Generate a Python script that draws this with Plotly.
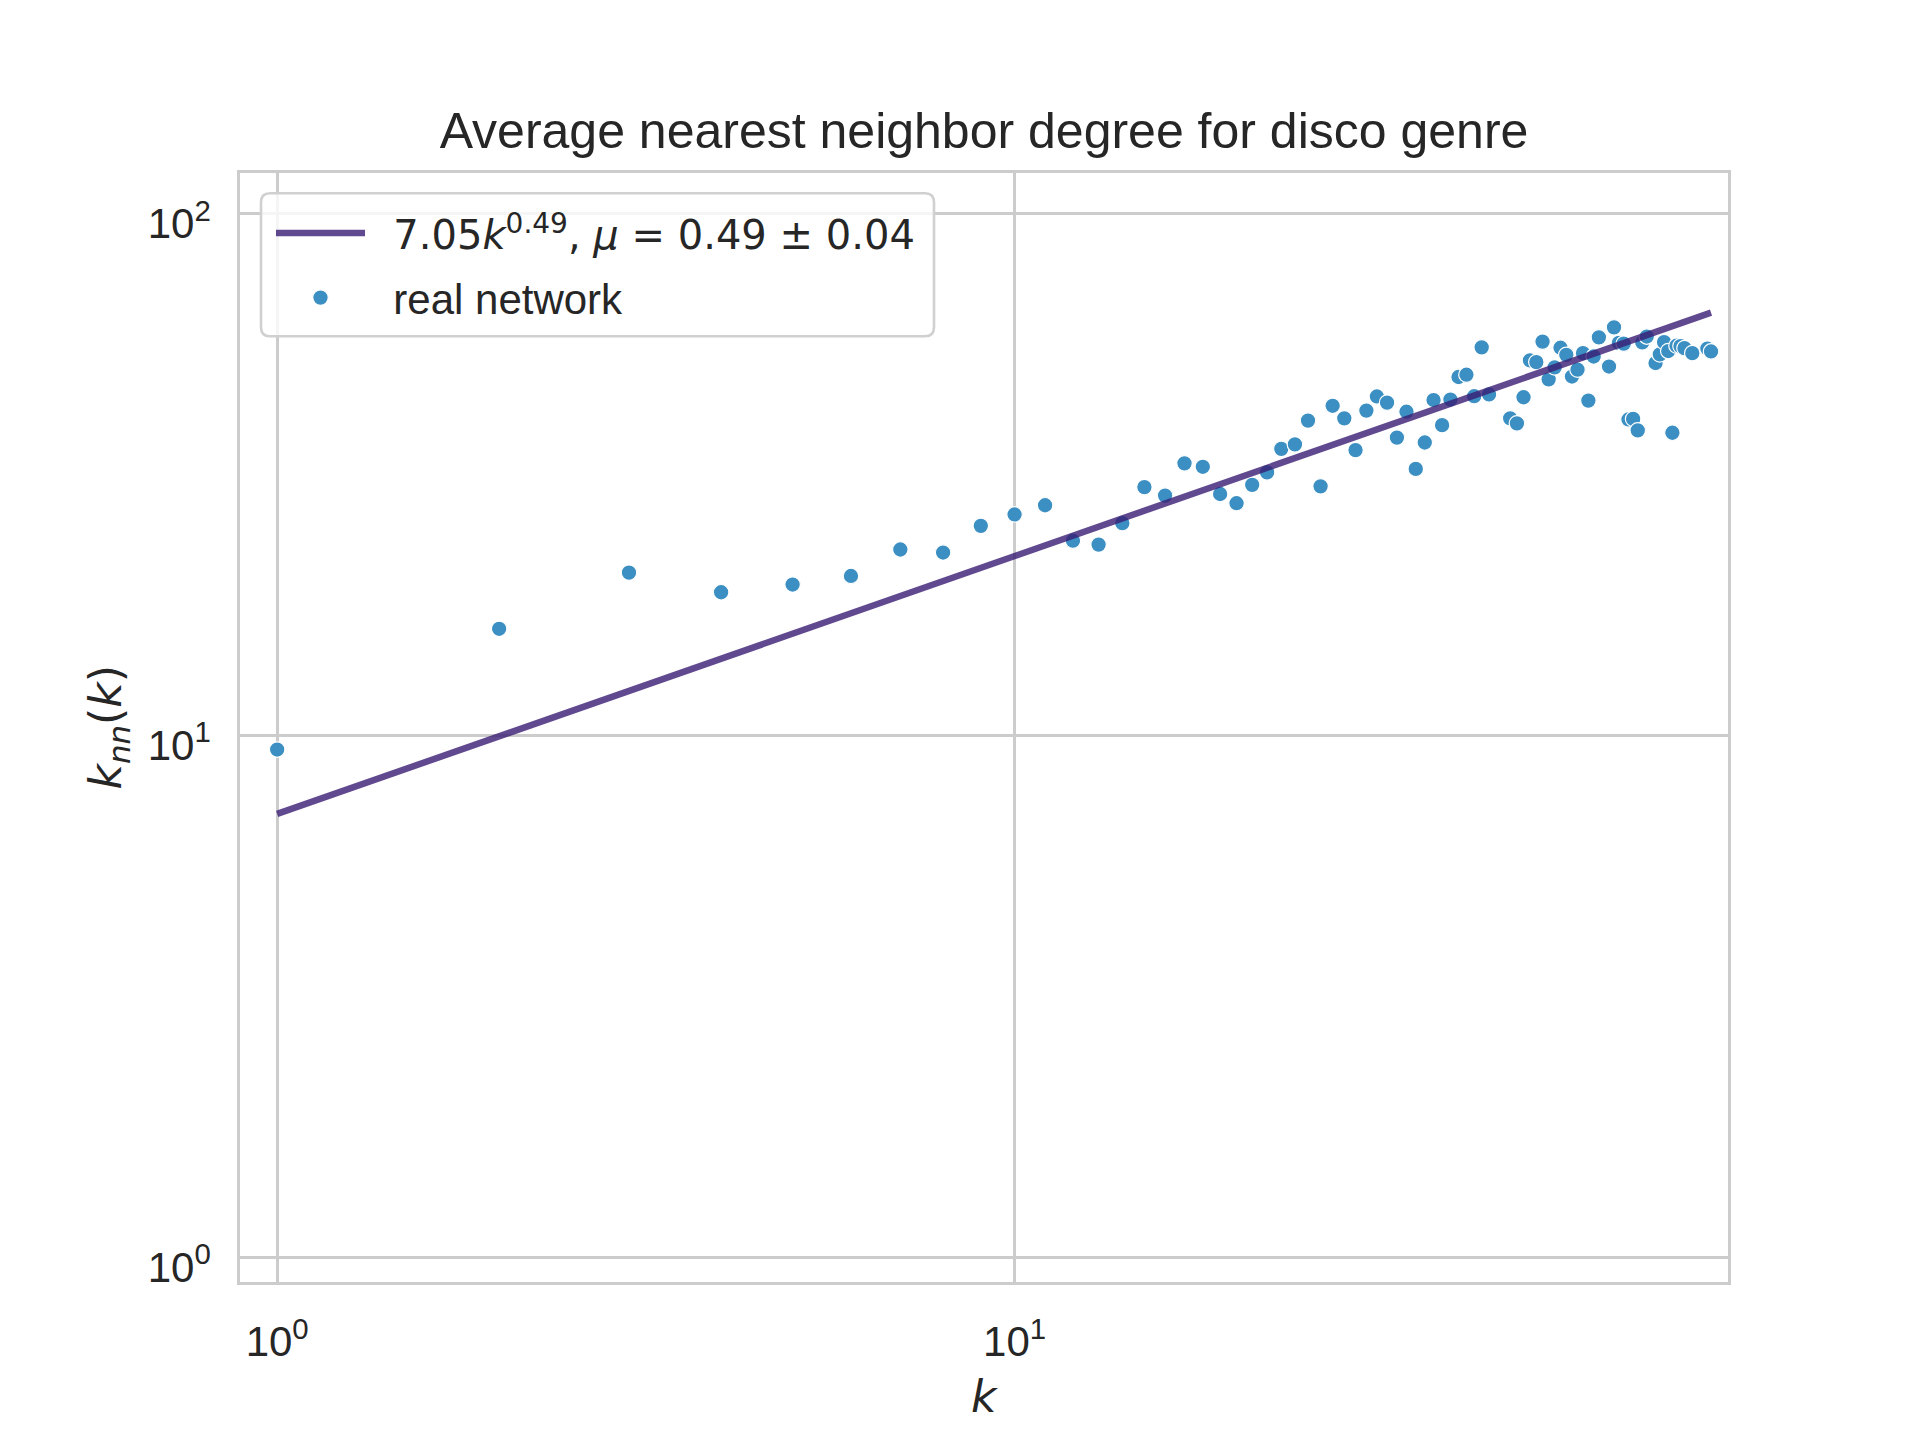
import plotly.graph_objects as go

# ---- data ----
degree = [1, 2, 3, 4, 5, 6, 7, 8, 9, 10, 11, 12, 13, 14,
          15, 16, 17, 18, 19, 20, 21, 22, 23, 24, 25, 26, 27, 28, 29, 30,
          31, 32, 33, 34, 35, 36, 37, 38, 39, 40, 41, 42, 43, 44,
          47, 48, 49, 50, 51, 52, 53, 54, 55, 56, 57, 58, 59, 60, 61, 62,
          64, 65, 66, 67, 68, 69, 70, 71, 72,
          74, 75, 76, 77, 78, 79, 80, 81,
          83, 87, 88]
knn = [9.39, 16.0, 20.5, 18.8, 19.45, 20.2, 22.7, 22.4, 25.2, 26.5, 27.6, 23.6, 23.2, 25.5,
       29.9, 28.8, 33.2, 32.7, 29.0, 27.85, 30.2, 31.9, 35.4, 36.1,
       40.1, 30.0, 42.8, 40.5, 35.2, 41.9, 44.6, 43.4, 37.2, 41.7,
       32.4, 36.4, 43.9, 39.3, 44.0, 48.6, 49.1, 44.65, 55.4, 45.0,
       40.5, 39.6, 44.45, 52.3, 51.9, 56.8, 48.1, 50.7, 55.3, 53.6, 48.7, 50.2, 54.0, 43.8, 53.2, 57.9,
       50.9, 60.5, 56.5, 56.3, 40.3, 40.4, 38.4, 56.6, 58.1,
       51.7, 53.7, 56.7, 54.5, 38.0, 55.8, 55.7, 55.2,
       54.0, 55.1, 54.4]

fit_coef = 7.07
fit_exp = 0.494
fit_label = ('\u00a0\u00a0<span style="font-family:\'DejaVu Sans\';font-size:40px">7.05<i>k</i><sup>0.49</sup>, '
             '<i>μ</i> = 0.49 ± 0.04</span>')
scatter_label = "\u00a0\u00a0real network"

tick_vals = [1, 10, 100]
tick_text = ["10<sup>0</sup>", "10<sup>1</sup>", "10<sup>2</sup>"]

title_text = "Average nearest neighbor degree for disco genre"
x_label = "<i>k</i>"
y_label = "<i>k</i><sub><i>nn</i></sub>(<i>k</i>)"

# ---- geometry: page pixels, page body has an 8px margin ----
OFF = 8
W, H = 1920 - OFF, 1440 - OFF
L, R, T, B = 240 - OFF, 1728 - OFF, 172.8 - OFF, 1281.6 - OFF
pw, ph = R - L, B - T


def px(xp):  # page x -> paper x
    return (xp - OFF - L) / pw


def py(yp):  # page y -> paper y
    return (B - (yp - OFF)) / ph


fit_y = [fit_coef * k ** fit_exp for k in degree]

fig = go.Figure()
fig.add_trace(go.Scatter(
    x=degree, y=knn, mode="markers", name=scatter_label, legendgroup="b", legendrank=2,
    marker=dict(color="#3b8fc2", size=15.5, line=dict(color="white", width=1.2)),
))
fig.add_trace(go.Scatter(
    x=degree, y=fit_y, mode="lines",
    name=fit_label, legendgroup="a", legendrank=1,
    line=dict(color="rgba(58,28,116,0.8)", width=6.5),
))

grid = "#cccccc"
axis_common = dict(
    type="log", showgrid=True, gridcolor=grid, gridwidth=2.6,
    showline=True, linecolor=grid, linewidth=2.6, mirror=True,
    zeroline=False, ticks="", tickvals=tick_vals, ticktext=tick_text,
    tickfont=dict(family="Liberation Sans, Arial, sans-serif", size=42, color="#262626"),
    minor=dict(showgrid=False),
)
fig.update_xaxes(range=[-0.0504, 1.9675], ticklabelstandoff=21, **axis_common)
fig.update_yaxes(range=[-0.0477, 2.0776], ticklabelstandoff=18, ticklabelshift=10,
                 **axis_common)

# rounded legend frame
x0, x1 = px(261), px(934)
y1, y0 = py(193), py(336)
rx, ry = 9 / pw, 9 / ph
path = (f"M{x0+rx},{y0} L{x1-rx},{y0} Q{x1},{y0} {x1},{y0+ry} "
        f"L{x1},{y1-ry} Q{x1},{y1} {x1-rx},{y1} L{x0+rx},{y1} "
        f"Q{x0},{y1} {x0},{y1-ry} L{x0},{y0+ry} Q{x0},{y0} {x0+rx},{y0} Z")
fig.add_shape(type="path", path=path, xref="paper", yref="paper",
              fillcolor="rgba(255,255,255,0.8)", line=dict(color="#d0d0d0", width=2.6),
              layer="above")

fig.add_annotation(text=x_label, xref="paper", yref="paper", x=0.5,
                   y=py(1396), showarrow=False, xanchor="center", yanchor="middle",
                   font=dict(family="DejaVu Sans", size=44, color="#262626"))
fig.add_annotation(text=y_label, xref="paper", yref="paper", x=px(108),
                   y=0.5, showarrow=False, xanchor="center", yanchor="middle", textangle=-90,
                   font=dict(family="DejaVu Sans", size=44, color="#262626"))

fig.update_layout(
    width=W, height=H,
    margin=dict(l=L, r=W - R, t=T, b=H - B, pad=0),
    paper_bgcolor="white", plot_bgcolor="white",
    title=dict(text=title_text, x=(L + R) / 2 / W, xanchor="center", xref="container",
               y=1 - (130 - OFF) / H, yanchor="middle", yref="container",
               font=dict(family="Liberation Sans, Arial, sans-serif", size=50, color="#262626")),
    showlegend=True,
    legend=dict(x=px(271), y=py(199), xanchor="left", yanchor="top",
                bgcolor="rgba(0,0,0,0)", borderwidth=0, traceorder="grouped",
                tracegroupgap=7, itemwidth=89,
                font=dict(family="Liberation Sans, Arial, sans-serif", size=42, color="#262626")),
)

fig.write_html("out.html")
